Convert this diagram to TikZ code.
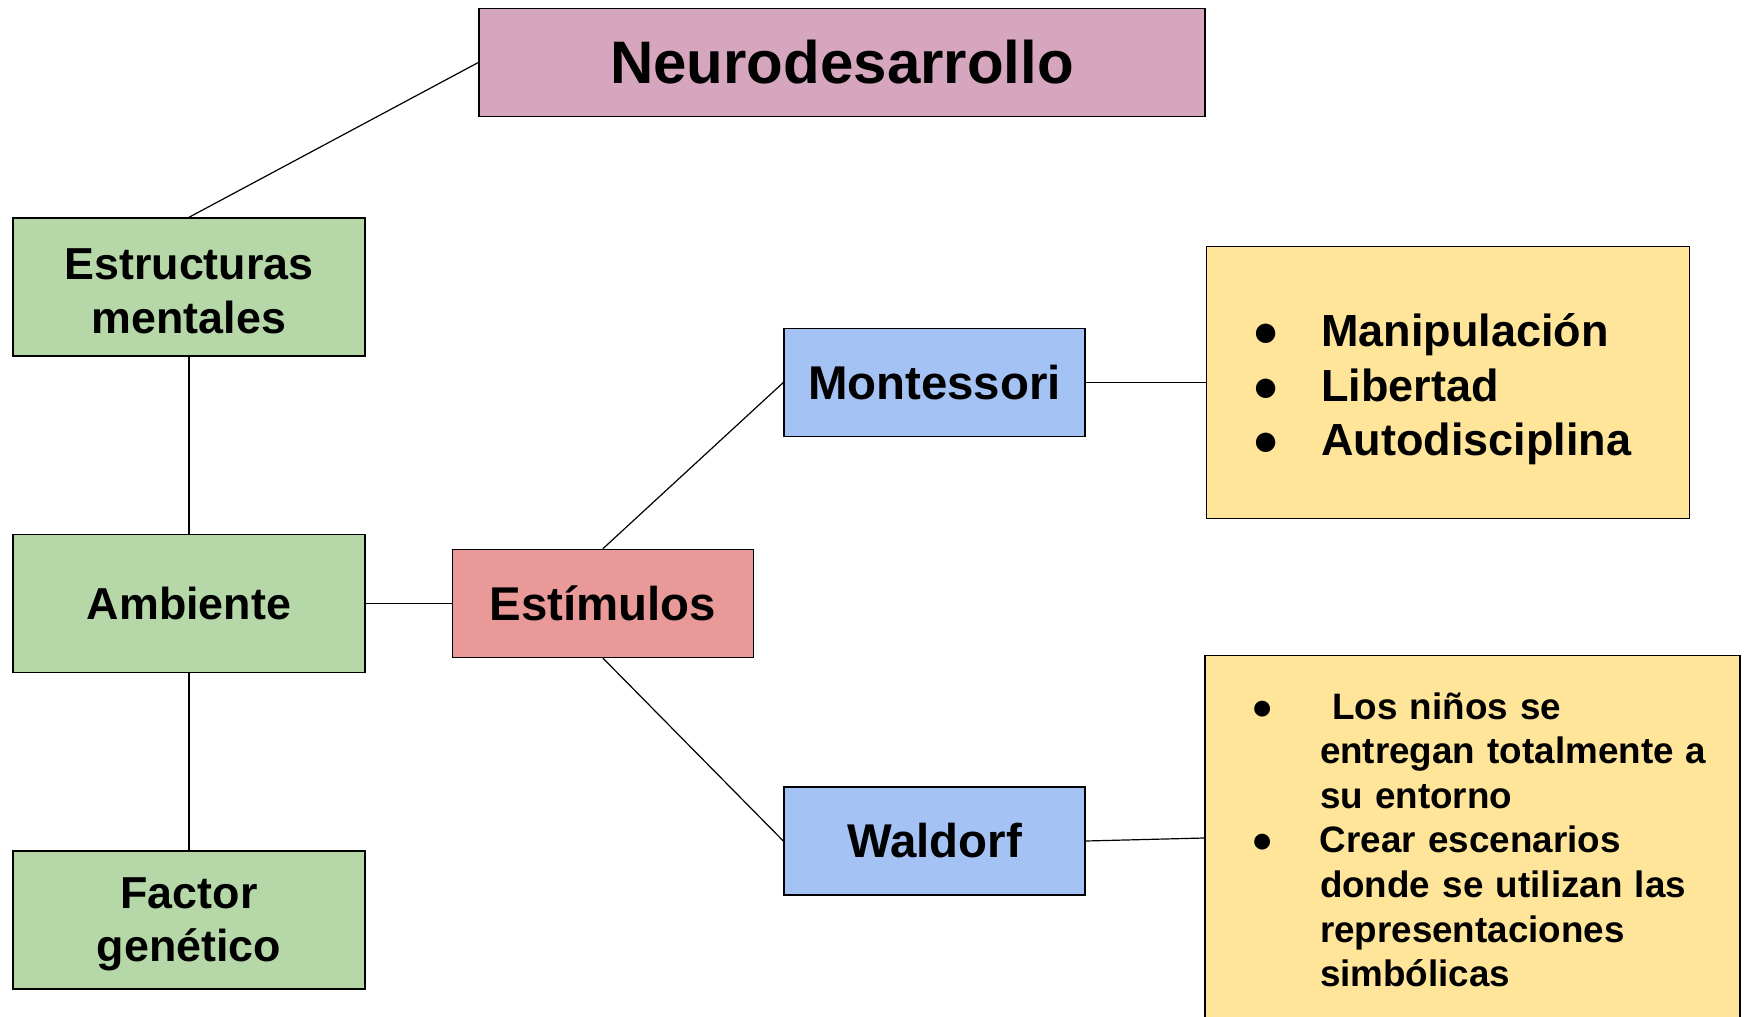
\documentclass[tikz,border=0pt]{standalone}
\usepackage{fontspec}
\setmainfont{Liberation Sans}
\usepackage{xcolor}
\usepackage{tikz}
\usetikzlibrary{positioning}
\definecolor{rosa}{HTML}{D5A6BD}
\definecolor{verde}{HTML}{B6D7A8}
\definecolor{rojo}{HTML}{EA9999}
\definecolor{azul}{HTML}{A4C2F4}
\definecolor{amarillo}{HTML}{FFE599}
\newcommand{\alto}{\rule{0pt}{19.7pt}}
\tikzset{box/.style={rectangle,draw,line width=0.7pt,align=center,inner sep=0pt},
         titlebox/.style={box,fill=rosa,minimum width=363pt,minimum height=54pt,font=\fontsize{30}{36}\selectfont\bfseries},
         greenbox/.style={box,fill=verde,minimum width=176pt,minimum height=69pt,font=\fontsize{22.4}{26.7}\selectfont\bfseries},
         midbox/.style={box,minimum width=150.5pt,minimum height=54pt,font=\fontsize{23.7}{28}\selectfont\bfseries},
         listbox/.style={rectangle,draw,line width=0.7pt,fill=amarillo,align=left,inner xsep=23pt,inner ysep=0pt},
         link/.style={line width=0.6pt}}

\begin{document}
\begin{tikzpicture}[x=0.5pt,y=-0.5pt,node distance=88.5pt]
    \useasboundingbox (0,0) rectangle (1746,1017);
    \node (neuro) [titlebox] at (842,62.5) {Neurodesarrollo};
    \node (estr) [greenbox] at (189,287) {\alto Estructuras\\mentales};
    \node (amb) [greenbox, below=of estr] {Ambiente};
    \node (fact) [greenbox, below=of amb] {\alto Factor\\genético};
    \node (estim) [midbox, fill=rojo, right=43pt of amb] {Estímulos};
    \node (mont) [midbox, fill=azul] at (934.5,382.5) {Montessori};
    \node (wald) [midbox, fill=azul] at (934.5,841) {Waldorf};
    \node (lista1) [listbox, right=60pt of mont, text width=195.5pt, minimum height=136pt,
                    font=\fontsize{22.5}{27.3}\selectfont\bfseries]
      {\begin{tabular}{@{}p{34.5pt}@{}l@{}}
       \noalign{\vskip 7.8pt}
       ● & Manipulación\\
       ● & Libertad\\
       ● & Autodisciplina
       \end{tabular}};
    \node (lista2) [listbox, text width=221.5pt, minimum height=182.5pt,
                    font=\fontsize{18.4}{22.3}\selectfont\bfseries] at (1472.5,838)
      {\begin{tabular}{@{}p{34.5pt}@{}l@{}}
       \noalign{\vskip 6pt}
       ● & \ Los niños se\\
         & entregan totalmente a\\
         & su entorno\\
       ● & Crear escenarios\\
         & donde se utilizan las\\
         & representaciones\\
         & simbólicas
       \end{tabular}};
    \foreach \a/\b in {neuro.west/estr.north, estr/amb, amb/fact, amb/estim, estim.north/mont.west, estim.south/wald.west, mont/lista1, wald.east/lista2.west} {\draw[link] (\a) -- (\b);}
  \end{tikzpicture}
\end{document}
